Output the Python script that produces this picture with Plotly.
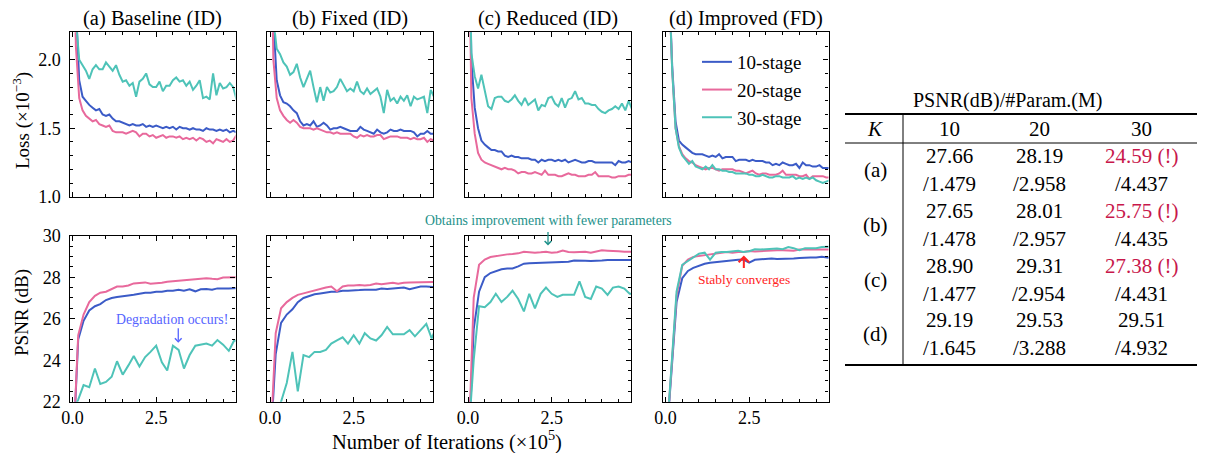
import plotly.graph_objects as go

# ---------------- data ----------------
loss_iters = [0.0, 0.1, 0.2, 0.3, 0.4, 0.5, 0.6, 0.7, 0.8, 0.9,
              1.0, 1.1, 1.2, 1.3, 1.4, 1.5, 1.6, 1.7, 1.8, 1.9,
              2.0, 2.1, 2.2, 2.3, 2.4, 2.5, 2.6, 2.7, 2.8, 2.9,
              3.0, 3.1, 3.2, 3.3, 3.4, 3.5, 3.6, 3.7, 3.8, 3.9,
              4.0, 4.1, 4.2, 4.3, 4.4, 4.5, 4.6, 4.7, 4.8, 4.9]
psnr_iters = [0.0, 0.17, 0.33, 0.5, 0.67, 0.83, 1.0, 1.17, 1.33, 1.5,
              1.67, 1.83, 2.0, 2.17, 2.33, 2.5, 2.67, 2.83, 3.0, 3.17,
              3.33, 3.5, 3.67, 3.83, 4.0, 4.17, 4.33, 4.5, 4.67, 4.83, 5.0]

stage_names = ["10-stage", "20-stage", "30-stage"]
panel_titles = ["(a) Baseline (ID)", "(b) Fixed (ID)", "(c) Reduced (ID)", "(d) Improved (FD)"]

loss_a_10 = [3.5, 2.4, 1.85, 1.73, 1.70, 1.67, 1.65, 1.63, 1.64, 1.60, 1.59, 1.60, 1.57, 1.55, 1.55, 1.54, 1.53, 1.52, 1.53, 1.52, 1.52, 1.53, 1.51, 1.52, 1.51, 1.52, 1.51, 1.50, 1.51, 1.50, 1.51, 1.49, 1.51, 1.50, 1.50, 1.49, 1.50, 1.49, 1.49, 1.48, 1.50, 1.49, 1.49, 1.48, 1.49, 1.48, 1.49, 1.47, 1.48, 1.47]
loss_a_20 = [3.4, 2.1, 1.72, 1.63, 1.59, 1.57, 1.55, 1.56, 1.53, 1.52, 1.51, 1.52, 1.48, 1.47, 1.47, 1.47, 1.46, 1.47, 1.48, 1.47, 1.44, 1.46, 1.46, 1.44, 1.45, 1.43, 1.44, 1.45, 1.43, 1.44, 1.44, 1.43, 1.44, 1.42, 1.43, 1.42, 1.43, 1.41, 1.43, 1.42, 1.40, 1.41, 1.39, 1.42, 1.41, 1.40, 1.42, 1.40, 1.41, 1.45]
loss_a_30 = [3.5, 2.3, 2.0, 1.96, 1.92, 1.86, 1.93, 1.96, 1.93, 1.93, 1.98, 1.95, 1.92, 1.96, 1.89, 1.84, 1.85, 1.81, 1.83, 1.73, 1.84, 1.86, 1.90, 1.82, 1.80, 1.80, 1.84, 1.77, 1.81, 1.81, 1.85, 1.87, 1.84, 1.85, 1.81, 1.84, 1.78, 1.81, 1.85, 1.72, 1.73, 1.71, 1.90, 1.74, 1.83, 1.79, 1.80, 1.83, 1.80, 1.71]

loss_b_10 = [3.5, 2.3, 1.85, 1.74, 1.69, 1.68, 1.66, 1.63, 1.61, 1.55, 1.52, 1.53, 1.52, 1.55, 1.51, 1.52, 1.54, 1.52, 1.49, 1.50, 1.50, 1.51, 1.50, 1.49, 1.48, 1.48, 1.48, 1.51, 1.49, 1.48, 1.47, 1.46, 1.49, 1.47, 1.46, 1.47, 1.49, 1.48, 1.48, 1.49, 1.48, 1.48, 1.48, 1.47, 1.44, 1.46, 1.46, 1.48, 1.46, 1.46]
loss_b_20 = [3.4, 2.0, 1.72, 1.63, 1.59, 1.56, 1.54, 1.56, 1.54, 1.51, 1.50, 1.50, 1.50, 1.49, 1.50, 1.49, 1.48, 1.47, 1.47, 1.46, 1.47, 1.46, 1.46, 1.46, 1.46, 1.44, 1.43, 1.45, 1.44, 1.45, 1.44, 1.44, 1.45, 1.45, 1.42, 1.43, 1.44, 1.44, 1.44, 1.43, 1.43, 1.43, 1.42, 1.43, 1.42, 1.42, 1.43, 1.40, 1.42, 1.41]
loss_b_30 = [3.5, 2.3, 2.08, 2.04, 1.98, 1.95, 1.89, 1.91, 1.97, 1.87, 1.80, 1.86, 1.92, 1.80, 1.69, 1.80, 1.70, 1.80, 1.76, 1.77, 1.80, 1.86, 1.81, 1.77, 1.79, 1.77, 1.84, 1.77, 1.75, 1.79, 1.75, 1.77, 1.79, 1.73, 1.61, 1.78, 1.70, 1.72, 1.68, 1.73, 1.70, 1.74, 1.66, 1.73, 1.71, 1.72, 1.73, 1.61, 1.78, 1.73]

loss_c_10 = [3.5, 2.0, 1.65, 1.50, 1.41, 1.38, 1.36, 1.34, 1.34, 1.33, 1.33, 1.30, 1.29, 1.30, 1.29, 1.29, 1.28, 1.28, 1.28, 1.27, 1.27, 1.25, 1.27, 1.26, 1.27, 1.27, 1.26, 1.27, 1.26, 1.27, 1.25, 1.26, 1.27, 1.26, 1.25, 1.25, 1.26, 1.26, 1.25, 1.25, 1.25, 1.25, 1.25, 1.25, 1.23, 1.26, 1.25, 1.25, 1.26, 1.25]
loss_c_20 = [3.4, 1.72, 1.46, 1.32, 1.27, 1.25, 1.24, 1.23, 1.22, 1.21, 1.20, 1.21, 1.20, 1.20, 1.19, 1.17, 1.18, 1.18, 1.17, 1.17, 1.18, 1.17, 1.16, 1.19, 1.16, 1.16, 1.16, 1.15, 1.15, 1.16, 1.17, 1.16, 1.16, 1.15, 1.15, 1.15, 1.16, 1.16, 1.18, 1.15, 1.15, 1.15, 1.15, 1.14, 1.14, 1.15, 1.15, 1.15, 1.16, 1.16]
loss_c_30 = [3.3, 2.05, 1.88, 1.79, 1.89, 1.78, 1.66, 1.64, 1.72, 1.73, 1.73, 1.70, 1.69, 1.71, 1.74, 1.70, 1.67, 1.72, 1.67, 1.69, 1.71, 1.63, 1.67, 1.66, 1.72, 1.73, 1.68, 1.66, 1.72, 1.65, 1.71, 1.72, 1.77, 1.71, 1.72, 1.68, 1.68, 1.67, 1.67, 1.64, 1.62, 1.61, 1.63, 1.64, 1.66, 1.64, 1.68, 1.63, 1.70, 1.64]

loss_d_10 = [3.5, 2.6, 1.95, 1.55, 1.41, 1.38, 1.36, 1.34, 1.32, 1.31, 1.31, 1.31, 1.30, 1.29, 1.30, 1.29, 1.31, 1.28, 1.29, 1.29, 1.29, 1.26, 1.27, 1.27, 1.27, 1.26, 1.27, 1.26, 1.26, 1.26, 1.25, 1.25, 1.23, 1.24, 1.23, 1.25, 1.24, 1.23, 1.23, 1.24, 1.21, 1.25, 1.23, 1.23, 1.22, 1.22, 1.23, 1.21, 1.21, 1.21]
loss_d_20 = [3.5, 2.6, 1.92, 1.50, 1.37, 1.31, 1.28, 1.26, 1.25, 1.23, 1.22, 1.21, 1.20, 1.21, 1.21, 1.20, 1.19, 1.20, 1.20, 1.20, 1.20, 1.19, 1.19, 1.18, 1.17, 1.18, 1.19, 1.17, 1.16, 1.17, 1.17, 1.16, 1.16, 1.16, 1.17, 1.19, 1.16, 1.16, 1.16, 1.16, 1.15, 1.15, 1.16, 1.13, 1.15, 1.15, 1.15, 1.15, 1.14, 1.14]
loss_d_30 = [3.5, 2.6, 1.92, 1.50, 1.36, 1.30, 1.27, 1.24, 1.26, 1.22, 1.21, 1.20, 1.22, 1.20, 1.23, 1.20, 1.20, 1.19, 1.19, 1.18, 1.18, 1.17, 1.17, 1.17, 1.17, 1.16, 1.16, 1.15, 1.15, 1.16, 1.15, 1.14, 1.14, 1.15, 1.15, 1.14, 1.14, 1.14, 1.15, 1.13, 1.14, 1.13, 1.14, 1.13, 1.14, 1.12, 1.11, 1.10, 1.11, 1.12]

psnr_a_10 = [19.0, 25.0, 25.9, 26.4, 26.6, 26.7, 26.9, 27.0, 27.05, 27.1, 27.12, 27.15, 27.2, 27.25, 27.25, 27.3, 27.3, 27.35, 27.35, 27.4, 27.35, 27.42, 27.32, 27.42, 27.43, 27.4, 27.46, 27.45, 27.46, 27.47, 27.47]
psnr_a_20 = [19.0, 25.2, 26.2, 26.8, 27.1, 27.25, 27.3, 27.45, 27.55, 27.55, 27.6, 27.7, 27.72, 27.75, 27.68, 27.7, 27.73, 27.78, 27.8, 27.83, 27.85, 27.86, 27.88, 27.9, 27.95, 27.92, 27.9, 27.98, 28.0, 28.0, 28.0]
psnr_a_30 = [21.5, 22.1, 22.8, 22.7, 23.6, 22.85, 22.95, 23.2, 23.95, 23.3, 23.75, 24.2, 23.7, 24.15, 24.4, 24.7, 23.9, 23.5, 24.7, 24.5, 23.6, 24.25, 24.7, 24.75, 24.8, 24.7, 24.97, 24.75, 24.45, 24.95, 24.9]

psnr_b_10 = [19.5, 24.3, 25.8, 26.2, 26.45, 26.8, 27.0, 27.1, 27.18, 27.22, 27.27, 27.3, 27.3, 27.35, 27.35, 27.38, 27.38, 27.4, 27.4, 27.4, 27.45, 27.43, 27.45, 27.47, 27.5, 27.42, 27.5, 27.55, 27.55, 27.52, 27.52]
psnr_b_20 = [19.5, 25.3, 26.5, 26.8, 27.0, 27.15, 27.22, 27.3, 27.35, 27.42, 27.5, 27.55, 27.32, 27.55, 27.6, 27.6, 27.62, 27.6, 27.62, 27.7, 27.66, 27.7, 27.73, 27.68, 27.73, 27.74, 27.75, 27.76, 27.78, 27.78, 27.78]
psnr_b_30 = [19.5, 20.5, 22.0, 22.9, 24.4, 22.5, 24.25, 24.15, 24.4, 24.4, 24.5, 24.8, 24.95, 25.1, 24.8, 25.2, 24.8, 25.3, 25.05, 24.95, 25.2, 25.6, 25.25, 25.25, 25.25, 25.45, 25.15, 25.45, 25.75, 25.05, 25.7]

psnr_c_10 = [19.0, 25.5, 27.3, 28.0, 28.2, 28.3, 28.38, 28.42, 28.42, 28.52, 28.65, 28.67, 28.68, 28.68, 28.7, 28.7, 28.73, 28.73, 28.74, 28.8, 28.78, 28.79, 28.78, 28.78, 28.8, 28.83, 28.82, 28.83, 28.83, 28.83, 28.83]
psnr_c_20 = [19.0, 27.0, 28.6, 28.85, 28.97, 29.02, 29.05, 29.1, 29.12, 29.15, 29.23, 29.2, 29.18, 29.2, 29.23, 29.18, 29.2, 29.28, 29.22, 29.2, 29.23, 29.23, 29.18, 29.25, 29.3, 29.28, 29.25, 29.25, 29.23, 29.23, 29.23]
psnr_c_30 = [20.0, 24.0, 26.6, 26.55, 26.8, 27.2, 26.8, 27.05, 27.35, 26.95, 26.35, 27.2, 26.5, 27.2, 27.5, 27.2, 27.05, 27.15, 27.15, 27.15, 27.8, 27.05, 26.95, 27.55, 27.45, 27.15, 27.5, 27.55, 27.45, 27.2, 27.2]

psnr_d_10 = [19.5, 23.3, 26.8, 27.95, 28.3, 28.45, 28.55, 28.65, 28.7, 28.73, 28.78, 28.8, 28.83, 28.84, 28.85, 28.7, 28.84, 28.86, 28.86, 28.9, 28.88, 28.88, 28.9, 28.9, 28.93, 28.95, 28.95, 28.95, 28.98, 28.95, 28.93]
psnr_d_20 = [19.5, 23.5, 27.1, 28.55, 28.85, 28.98, 29.02, 29.08, 29.12, 29.16, 29.2, 29.22, 29.18, 29.22, 29.22, 29.26, 29.24, 29.26, 29.28, 29.27, 29.3, 29.3, 29.28, 29.28, 29.33, 29.32, 29.33, 29.34, 29.34, 29.34, 29.34]
psnr_d_30 = [19.5, 23.5, 27.3, 28.6, 28.78, 28.95, 29.13, 29.18, 28.85, 29.18, 29.22, 29.22, 29.25, 29.27, 29.22, 29.25, 29.35, 29.33, 29.35, 29.37, 29.38, 29.35, 29.45, 29.4, 29.3, 29.4, 29.4, 29.4, 29.45, 29.47, 29.48]

loss_panels = [[loss_a_10, loss_a_20, loss_a_30], [loss_b_10, loss_b_20, loss_b_30],
               [loss_c_10, loss_c_20, loss_c_30], [loss_d_10, loss_d_20, loss_d_30]]
psnr_panels = [[psnr_a_10, psnr_a_20, psnr_a_30], [psnr_b_10, psnr_b_20, psnr_b_30],
               [psnr_c_10, psnr_c_20, psnr_c_30], [psnr_d_10, psnr_d_20, psnr_d_30]]

# table
table_title = "PSNR(dB)/#Param.(M)"
table_cols = ["10", "20", "30"]
table_rows = ["(a)", "(b)", "(c)", "(d)"]
table_psnr = [["27.66", "28.19", "24.59"], ["27.65", "28.01", "25.75"],
              ["28.90", "29.31", "27.38"], ["29.19", "29.53", "29.51"]]
table_params = [["1.479", "2.958", "4.437"], ["1.478", "2.957", "4.435"],
                ["1.477", "2.954", "4.431"], ["1.645", "3.288", "4.932"]]
table_flag = [[False, False, True], [False, False, True],
              [False, False, True], [False, False, False]]

# ---------------- style ----------------
W, H = 1210, 453
OFF = 8  # page body margin: figure is drawn 8 px right/down of the window origin
FONT = "Liberation Serif"
colors = ["#3B5BC7", "#E8699C", "#4EC3B8"]
col_px = [(69.5, 235.5), (267, 433), (465, 631), (662.5, 828.5)]
row_px = [(32.3, 196.7), (235.7, 401.7)]
XR = [-0.09, 4.87]


def fx(p):
    return (p - OFF) / W


def fy(p):
    return 1 - (p - OFF) / H


def txt(text, x, y, size, color="black", **kw):
    d = dict(text=text, xref="paper", yref="paper", x=fx(x), y=fy(y),
             showarrow=False, xanchor="center", yanchor="middle",
             font=dict(size=size, family=FONT, color=color))
    d.update(kw)
    return d


fig = go.Figure()
layout = dict(width=W, height=H,
              margin=dict(l=0, r=0, t=0, b=0, pad=0, autoexpand=False),
              paper_bgcolor="white", plot_bgcolor="white",
              font=dict(family=FONT, color="black", size=18))
annotations = []
shapes = []

for r in range(2):
    for c in range(4):
        i = r * 4 + c + 1
        xs = loss_iters if r == 0 else psnr_iters
        series = loss_panels[c] if r == 0 else psnr_panels[c]
        for s in range(3):
            fig.add_trace(go.Scatter(
                x=xs, y=series[s], mode="lines",
                line=dict(color=colors[s], width=2),
                name=stage_names[s], legendgroup=stage_names[s],
                showlegend=(i == 4),
                xaxis="x%d" % i, yaxis="y%d" % i))
        xa = dict(domain=[fx(col_px[c][0]), fx(col_px[c][1])], range=XR,
                  anchor="y%d" % i, showline=True, linecolor="black", linewidth=1.3,
                  mirror="allticks", ticks="inside", ticklen=5, tickwidth=1.2,
                  tickcolor="black", tick0=0, dtick=2.5, tickformat=".1f",
                  showticklabels=(r == 1), showgrid=False, zeroline=False,
                  automargin=False,
                  tickfont=dict(size=18, family=FONT),
                  minor=dict(tick0=0, dtick=0.5, ticks="inside", ticklen=3,
                             tickcolor="black", tickwidth=1, showgrid=False))
        if r == 0:
            ya = dict(range=[1.0, 2.2], tick0=0, dtick=0.5, tickformat=".1f",
                      minor=dict(tick0=0, dtick=0.1, ticks="inside", ticklen=3,
                                 tickcolor="black", tickwidth=1, showgrid=False))
        else:
            ya = dict(range=[22, 30], tick0=0, dtick=2, tickformat="d",
                      minor=dict(tick0=0, dtick=0.5, ticks="inside", ticklen=3,
                                 tickcolor="black", tickwidth=1, showgrid=False))
        ya.update(domain=[fy(row_px[r][1]), fy(row_px[r][0])], anchor="x%d" % i,
                  showline=True, linecolor="black", linewidth=1.3, mirror="allticks",
                  ticks="inside", ticklen=5, tickwidth=1.2, tickcolor="black",
                  showticklabels=(c == 0), showgrid=False, zeroline=False,
                  automargin=False, ticklabelstandoff=4,
                  tickfont=dict(size=18, family=FONT))
        layout["xaxis%d" % i] = xa
        layout["yaxis%d" % i] = ya

# panel titles
for c in range(4):
    annotations.append(txt(panel_titles[c], (col_px[c][0] + col_px[c][1]) / 2, 18, 20.5))

# axis titles
annotations.append(txt("Loss (×10<sup>−3</sup>)", 22, 121, 19, textangle=-90))
annotations.append(txt("PSNR (dB)", 22, 313, 19, textangle=-90))
annotations.append(txt("Number of Iterations (×10<sup>5</sup>)", 447, 440, 20.5))

# callouts
deg_col = "#5563FF"
imp_col = "#1E918A"
stb_col = "#FF2424"
annotations += [
    dict(text="Degradation occurs!", xref="x5", yref="y5", x=2.98, y=25.98,
         xanchor="center", yanchor="middle",
         showarrow=False, font=dict(size=13.8, color=deg_col, family=FONT)),
    dict(text="", xref="x5", yref="y5", x=3.16, y=24.84, ax=0, ay=-16,
         showarrow=True, arrowhead=4, arrowsize=1, arrowwidth=1.3, arrowcolor=deg_col),
    txt("Obtains improvement with fewer parameters", 548, 221, 13.8, color=imp_col),
    dict(text="", xref="x7", yref="y7", x=2.39, y=29.53, ax=0, ay=-15,
         showarrow=True, arrowhead=4, arrowsize=1, arrowwidth=1.3, arrowcolor=imp_col),
    dict(text="Stably converges", xref="x8", yref="y8", x=2.34, y=27.9,
         xanchor="center", yanchor="middle",
         showarrow=False, font=dict(size=13.5, color=stb_col, family=FONT)),
    dict(text="", xref="x8", yref="y8", x=2.34, y=29.05, ax=0, ay=14,
         showarrow=True, arrowhead=4, arrowsize=1, arrowwidth=2, arrowcolor=stb_col),
]

# table
TS = 21
tx_label = 875
tx_cols = [949, 1039, 1141]
annotations.append(txt(table_title, 1007, 101, 20))
annotations.append(txt("<i>K</i>", tx_label, 129, TS))
for j, cname in enumerate(table_cols):
    annotations.append(txt(cname, tx_cols[j], 129, TS))
row_y1 = [156, 211, 266, 320]
row_gap = 27.5
for k, rname in enumerate(table_rows):
    annotations.append(txt(rname, tx_label, row_y1[k] + row_gap / 2, TS))
    for j in range(3):
        ptxt = table_psnr[k][j] + (" (!)" if table_flag[k][j] else "")
        pcol = "#C8174B" if table_flag[k][j] else "black"
        annotations.append(txt(ptxt, tx_cols[j], row_y1[k], TS, color=pcol))
        annotations.append(txt("/" + table_params[k][j], tx_cols[j], row_y1[k] + row_gap, TS))

shapes += [
    dict(type="line", xref="paper", yref="paper", x0=fx(845), x1=fx(1197), y0=fy(114), y1=fy(114),
         line=dict(color="black", width=1.8)),
    dict(type="line", xref="paper", yref="paper", x0=fx(845), x1=fx(1197), y0=fy(143), y1=fy(143),
         line=dict(color="black", width=1)),
    dict(type="line", xref="paper", yref="paper", x0=fx(845), x1=fx(1197), y0=fy(365), y1=fy(365),
         line=dict(color="black", width=1.8)),
    dict(type="line", xref="paper", yref="paper", x0=fx(903), x1=fx(903), y0=fy(114), y1=fy(365),
         line=dict(color="black", width=1)),
]

layout["annotations"] = annotations
layout["shapes"] = shapes
layout["showlegend"] = True
layout["legend"] = dict(x=fx(697), y=fy(43), xanchor="left", yanchor="top",
                        bgcolor="rgba(0,0,0,0)", borderwidth=0,
                        font=dict(size=19, family=FONT), tracegroupgap=0,
                        traceorder="grouped")
fig.update_layout(**layout)
fig.write_html("out.html")
